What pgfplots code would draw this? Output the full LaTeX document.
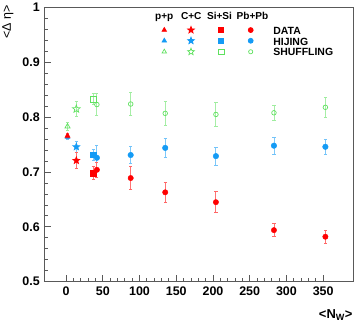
\documentclass[border=0pt]{standalone}
\usepackage{fontspec}
\setmainfont{Liberation Sans}
\usepackage{pgfplots}
\pgfplotsset{compat=1.18}
\usetikzlibrary{plotmarks}

\definecolor{cred}{RGB}{255,0,0}
\definecolor{cblue}{RGB}{20,155,245}
\definecolor{cgreen}{RGB}{95,225,95}

\pgfdeclareplotmark{fstar*}{%
  \pgfpathmoveto{\pgfpointpolar{90}{\pgfplotmarksize}}%
  \pgfpathlineto{\pgfpointpolar{126}{0.42\pgfplotmarksize}}%
  \pgfpathlineto{\pgfpointpolar{162}{\pgfplotmarksize}}%
  \pgfpathlineto{\pgfpointpolar{198}{0.42\pgfplotmarksize}}%
  \pgfpathlineto{\pgfpointpolar{234}{\pgfplotmarksize}}%
  \pgfpathlineto{\pgfpointpolar{270}{0.42\pgfplotmarksize}}%
  \pgfpathlineto{\pgfpointpolar{306}{\pgfplotmarksize}}%
  \pgfpathlineto{\pgfpointpolar{342}{0.42\pgfplotmarksize}}%
  \pgfpathlineto{\pgfpointpolar{18}{\pgfplotmarksize}}%
  \pgfpathlineto{\pgfpointpolar{54}{0.42\pgfplotmarksize}}%
  \pgfpathclose\pgfusepathqfillstroke}
\pgfdeclareplotmark{fstar}{%
  \pgfpathmoveto{\pgfpointpolar{90}{\pgfplotmarksize}}%
  \pgfpathlineto{\pgfpointpolar{126}{0.42\pgfplotmarksize}}%
  \pgfpathlineto{\pgfpointpolar{162}{\pgfplotmarksize}}%
  \pgfpathlineto{\pgfpointpolar{198}{0.42\pgfplotmarksize}}%
  \pgfpathlineto{\pgfpointpolar{234}{\pgfplotmarksize}}%
  \pgfpathlineto{\pgfpointpolar{270}{0.42\pgfplotmarksize}}%
  \pgfpathlineto{\pgfpointpolar{306}{\pgfplotmarksize}}%
  \pgfpathlineto{\pgfpointpolar{342}{0.42\pgfplotmarksize}}%
  \pgfpathlineto{\pgfpointpolar{18}{\pgfplotmarksize}}%
  \pgfpathlineto{\pgfpointpolar{54}{0.42\pgfplotmarksize}}%
  \pgfpathclose\pgfusepathqstroke}

\pgfplotstableread{
x y ey
2 0.766 0.005
}\dataPP
\pgfplotstableread{
x y ey
14 0.721 0.015
}\dataCC
\pgfplotstableread{
x y ey
37 0.698 0.012
}\dataSi
\pgfplotstableread{
x y ey
42 0.704 0.013
88 0.689 0.021
135 0.663 0.019
204 0.645 0.019
283 0.594 0.012
353 0.582 0.012
}\dataPb
\pgfplotstableread{
x y ey
2 0.764 0.004
}\hijPP
\pgfplotstableread{
x y ey
14 0.746 0.010
}\hijCC
\pgfplotstableread{
x y ey
37 0.732 0.010
}\hijSi
\pgfplotstableread{
x y ey
42 0.726 0.022
88 0.731 0.015
135 0.744 0.017
204 0.729 0.016
283 0.748 0.016
353 0.746 0.014
}\hijPb
\pgfplotstableread{
x y ey
2 0.783 0.007
}\shuPP
\pgfplotstableread{
x y ey
14 0.815 0.014
}\shuCC
\pgfplotstableread{
x y ey
37 0.833 0.010
}\shuSi
\pgfplotstableread{
x y ey
42 0.823 0.020
88 0.824 0.021
135 0.807 0.021
204 0.805 0.022
283 0.808 0.014
353 0.818 0.018
}\shuPb

\newcommand\lfont{\bfseries\fontsize{10.5}{10.5}\selectfont}
\newcommand\hfont{\bfseries\fontsize{10.1}{10.1}\selectfont}
\newcommand\lmk[5]{\draw[#1, fill=#1, only marks, mark=#2, mark size=#3, line width=0.7bp] plot coordinates {(#4bp,#5bp)};}
\newcommand\lmko[5]{\draw[#1, fill=none, only marks, mark=#2, mark size=#3, line width=0.7bp] plot coordinates {(#4bp,#5bp)};}

\pgfplotsset{
  eb/.style={error bars/.cd, y dir=both, y explicit,
    error mark=-, error mark options={rotate=90, mark size=1.6bp, line width=0.7bp, #1!60},
    error bar style={line width=0.9bp, #1!55}},
  biglegend/.style={legend image code/.code={%
    \path[draw=none,fill=none] (0,0) rectangle (195bp,-45bp);
    \node[draw=none, inner sep=0pt, font=\hfont, text=black, anchor=base] at (14.7bp,-7.6bp) {p+p};
    \node[draw=none, inner sep=0pt, font=\hfont, text=black, anchor=base] at (41.8bp,-7.6bp) {C+C};
    \node[draw=none, inner sep=0pt, font=\hfont, text=black, anchor=base] at (70.0bp,-7.6bp) {Si+Si};
    \node[draw=none, inner sep=0pt, font=\hfont, text=black, anchor=base] at (103.0bp,-7.6bp) {Pb+Pb};
    \lmk{cred}{triangle*}{2.6bp}{14.8}{-18.6}
    \lmk{cred}{fstar*}{3.6bp}{41.5}{-18.6}
    \lmk{cred}{square*}{2.4bp}{71.5}{-18.6}
    \lmk{cred}{*}{2.5bp}{101.2}{-18.6}
    \lmk{cblue}{triangle*}{2.6bp}{14.8}{-29.3}
    \lmk{cblue}{fstar*}{3.6bp}{41.5}{-29.3}
    \lmk{cblue}{square*}{2.4bp}{71.5}{-29.3}
    \lmk{cblue}{*}{2.5bp}{101.2}{-29.3}
    \lmko{cgreen}{triangle}{2.6bp}{14.8}{-40.3}
    \lmko{cgreen}{fstar}{3.6bp}{41.5}{-40.3}
    \lmko{cgreen}{square}{2.9bp}{71.5}{-40.3}
    \lmko{cgreen}{o}{2.1bp}{101.2}{-40.3}
    \node[draw=none, inner sep=0pt, font=\lfont, text=black, anchor=base west] at (123.8bp,-23.3bp) {DATA};
    \node[draw=none, inner sep=0pt, font=\lfont, text=black, anchor=base west] at (123.8bp,-33.6bp) {HIJING};
    \node[draw=none, inner sep=0pt, font=\lfont, text=black, anchor=base west] at (123.8bp,-44.3bp) {SHUFFLING};
  }},
}

\begin{document}
\begin{tikzpicture}
\path (-44bp,-42.3bp) rectangle (310bp,281.7bp);
\begin{axis}[
  scale only axis,
  width=309.3bp, height=274.2bp,
  xmin=-30, xmax=391, ymin=0.5, ymax=1,
  xtick={0,50,...,350}, ytick={0.5,0.6,...,1.0},
  minor x tick num=4, minor y tick num=4,
  tick align=inside, xtick pos=left, ytick pos=left,
  major tick length=7bp, minor tick length=3.8bp,
  axis line style={black!65, line width=0.8bp},
  every tick/.style={black!65, line width=0.8bp},
  /pgf/number format/assume math mode=true,
  yticklabel style={font=\bfseries\fontsize{12.5}{12.5}\selectfont, inner sep=0pt, xshift=-4bp,
    /pgf/number format/.cd, fixed, precision=1},
  xticklabel style={font=\bfseries\fontsize{12.5}{12.5}\selectfont, inner sep=0pt, yshift=-5bp},
  ylabel={<Δ η>},
  ylabel style={font=\fontsize{12.5}{12.5}\selectfont, at={(axis description cs:-0.117,1.009)}, anchor=east, inner sep=0pt},
  xlabel={\bfseries <N\textsubscript{W}>},
  xlabel style={font=\fontsize{13}{13}\selectfont, at={(axis description cs:0.998,-0.1327)}, anchor=base east, inner sep=0pt},
  legend style={draw=none, fill=none, inner sep=0pt, outer sep=0pt,
    nodes={inner sep=0pt, draw=none},
    at={(axis description cs:0.3411,0.9883)}, anchor=north west,
    /tikz/column sep=0pt, /tikz/row sep=0pt},
]
% HIJING
\addplot[forget plot, only marks, mark=triangle*, mark size=3bp, cblue, eb=cblue] table[y error=ey] {\hijPP};
\addplot[forget plot, only marks, mark=fstar*, mark size=4bp, cblue, eb=cblue] table[y error=ey] {\hijCC};
\addplot[forget plot, only marks, mark=square*, mark size=2.6bp, cblue, eb=cblue] table[y error=ey] {\hijSi};
\addplot[forget plot, only marks, mark=*, mark size=2.8bp, cblue, eb=cblue] table[y error=ey] {\hijPb};
% DATA
\addplot[forget plot, only marks, mark=triangle*, mark size=3bp, cred, eb=cred] table[y error=ey] {\dataPP};
\addplot[forget plot, only marks, mark=fstar*, mark size=4bp, cred, eb=cred] table[y error=ey] {\dataCC};
\addplot[forget plot, only marks, mark=square*, mark size=2.6bp, cred, eb=cred] table[y error=ey] {\dataSi};
\addplot[forget plot, only marks, mark=*, mark size=2.7bp, cred, eb=cred] table[y error=ey] {\dataPb};
% SHUFFLING
\addplot[forget plot, only marks, mark=triangle, mark size=3bp, cgreen, mark options={line width=0.7bp}, eb=cgreen] table[y error=ey] {\shuPP};
\addplot[forget plot, only marks, mark=fstar, mark size=4bp, cgreen, mark options={line width=0.7bp}, eb=cgreen] table[y error=ey] {\shuCC};
\addplot[forget plot, only marks, mark=square, mark size=2.8bp, cgreen, mark options={line width=0.7bp}, eb=cgreen] table[y error=ey] {\shuSi};
\addplot[forget plot, only marks, mark=o, mark size=2.3bp, cgreen, mark options={line width=0.7bp}, eb=cgreen] table[y error=ey] {\shuPb};

\addlegendimage{biglegend}\addlegendentry{}
\end{axis}
\end{tikzpicture}
\end{document}
